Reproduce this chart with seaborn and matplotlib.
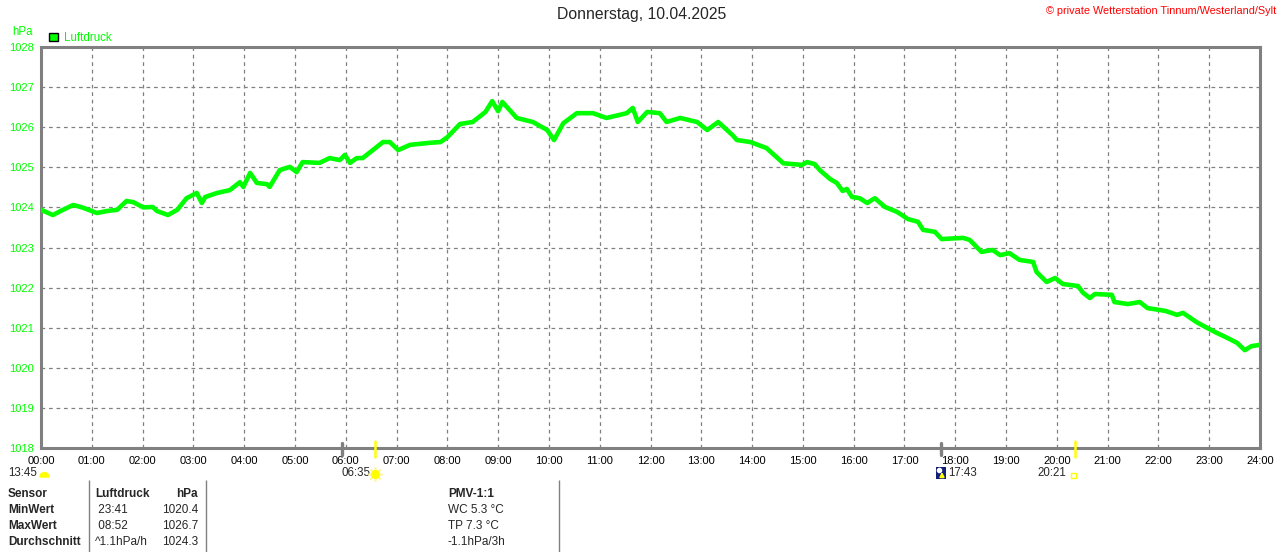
"""Luftdruck-Tagesverlauf, Wetterstation Tinnum, 10.04.2025"""
import matplotlib

matplotlib.use("Agg")
import matplotlib.pyplot as plt
import matplotlib.transforms as mtransforms
from matplotlib.patches import Patch, Rectangle, Wedge
import pandas as pd
import seaborn as sns

title = "Donnerstag, 10.04.2025"
copyright_text = "© private Wetterstation Tinnum/Westerland/Sylt"
sensor = "Luftdruck"
unit = "hPa"

# readings (time of day, hPa)
times = [
    "00:00", "00:14", "00:26", "00:38", "00:50", "01:06", "01:18", "01:30",
    "01:41", "01:49", "02:01", "02:12", "02:17", "02:30", "02:41", "02:52",
    "03:04", "03:10", "03:14", "03:28", "03:43", "03:55", "03:59", "04:07",
    "04:15", "04:27", "04:30", "04:42", "04:54", "05:02", "05:09", "05:29",
    "05:41", "05:53", "05:59", "06:05", "06:13", "06:20", "06:29", "06:44",
    "06:52", "07:02", "07:16", "07:39", "07:52", "08:00", "08:15", "08:30",
    "08:45", "08:53", "09:00", "09:05", "09:22", "09:41", "09:58", "10:06",
    "10:17", "10:33", "10:52", "11:08", "11:32", "11:39", "11:45", "11:56",
    "12:11", "12:19", "12:35", "12:55", "13:07", "13:20", "13:37", "13:42",
    "13:58", "14:17", "14:37", "14:59", "15:05", "15:14", "15:20", "15:32",
    "15:40", "15:47", "15:52", "15:58", "16:07", "16:16", "16:25", "16:37",
    "16:51", "16:57", "17:04", "17:16", "17:22", "17:36", "17:44", "18:09",
    "18:17", "18:31", "18:44", "18:53", "19:04", "19:16", "19:32", "19:36",
    "19:48", "19:58", "20:07", "20:25", "20:31", "20:39", "20:45", "21:05",
    "21:08", "21:24", "21:38", "21:47", "22:08", "22:22", "22:29", "22:45",
    "22:58", "23:09", "23:22", "23:33", "23:42", "23:50", "23:59",
]
pressure = [
    1023.94, 1023.81, 1023.94, 1024.06, 1023.99, 1023.86, 1023.91, 1023.94,
    1024.16, 1024.13, 1024.00, 1024.01, 1023.91, 1023.81, 1023.94, 1024.23,
    1024.36, 1024.11, 1024.26, 1024.36, 1024.43, 1024.63, 1024.51, 1024.86,
    1024.61, 1024.58, 1024.51, 1024.93, 1025.01, 1024.88, 1025.13, 1025.11,
    1025.23, 1025.18, 1025.31, 1025.11, 1025.23, 1025.23, 1025.38, 1025.63,
    1025.63, 1025.43, 1025.56, 1025.61, 1025.63, 1025.75, 1026.08, 1026.13,
    1026.38, 1026.65, 1026.40, 1026.63, 1026.23, 1026.13, 1025.93, 1025.68,
    1026.10, 1026.35, 1026.35, 1026.23, 1026.35, 1026.48, 1026.13, 1026.38,
    1026.35, 1026.13, 1026.23, 1026.13, 1025.93, 1026.13, 1025.80, 1025.68,
    1025.63, 1025.48, 1025.10, 1025.06, 1025.13, 1025.08, 1024.93, 1024.71,
    1024.61, 1024.41, 1024.46, 1024.26, 1024.23, 1024.11, 1024.23, 1024.01,
    1023.89, 1023.81, 1023.71, 1023.64, 1023.44, 1023.39, 1023.21, 1023.24,
    1023.19, 1022.89, 1022.94, 1022.81, 1022.86, 1022.69, 1022.64, 1022.39,
    1022.14, 1022.24, 1022.09, 1022.04, 1021.87, 1021.74, 1021.84, 1021.82,
    1021.64, 1021.59, 1021.64, 1021.49, 1021.42, 1021.32, 1021.37, 1021.14,
    1020.99, 1020.87, 1020.74, 1020.62, 1020.44, 1020.54, 1020.57,
]

hour_labels = [f"{h:02d}:00" for h in range(25)]
y_ticks = list(range(1018, 1029))

# sun / moon events on the time axis
sun_marks = ["06:35", "20:21"]
moon_marks = ["05:56", "17:43"]

# summary table under the chart
row_names = ["Sensor", "MinWert", "MaxWert", "Durchschnitt"]
row_times = ["Luftdruck", " 23:41", " 08:52", "^1.1hPa/h"]
row_values = ["hPa", "1020.4", "1026.7", "1024.3"]
pmv_lines = ["PMV-1:1", "WC 5.3 °C", "TP 7.3 °C", "-1.1hPa/3h"]

GREEN = "#00ff00"
GREY = "#808080"
YELLOW = "#ffff00"


def to_hours(t):
    h, m = t.split(":")
    return int(h) + int(m) / 60


df = pd.DataFrame({"hours": [to_hours(t) for t in times], "hPa": pressure})

sns.set_style("white")
plt.rcParams["font.family"] = ["Liberation Sans", "DejaVu Sans"]

W, H = 1280, 552
fig = plt.figure(figsize=(W / 100, H / 100), dpi=100)
ax = fig.add_axes([41 / W, 1 - 448 / H, (1260 - 41) / W, (448 - 47) / H])

sns.lineplot(df, x="hours", y="hPa", ax=ax, color=GREEN, linewidth=3.3,
             legend=False, zorder=3)

ax.set_xlim(0, 24)
ax.set_ylim(1018, 1028)
ax.set_xticks(range(25))
ax.set_xticklabels(hour_labels)
ax.set_yticks(y_ticks)
ax.set_xlabel("")
ax.set_ylabel("")
ax.grid(True, linestyle=(0, (3, 3)), color=GREY, linewidth=0.9)
for s in ax.spines.values():
    s.set_color(GREY)
    s.set_linewidth(2.2)
ax.tick_params(axis="y", colors=GREY, labelcolor=GREEN, length=4, width=1.2,
               labelsize=8, pad=1)
ax.tick_params(axis="x", length=0, labelsize=8, labelcolor="black", pad=6)

ax.legend(handles=[Patch(facecolor=GREEN, edgecolor="black", label=sensor)],
          loc="lower left", bbox_to_anchor=(49 / W, 1 - 44 / H),
          bbox_transform=fig.transFigure, frameon=False, fontsize=8.3,
          labelcolor=GREEN, handlelength=0.8, handleheight=0.8,
          handletextpad=0.5, borderaxespad=0, borderpad=0)

# event marks on the time axis
trans = mtransforms.blended_transform_factory(ax.transData, ax.transAxes)
for t in moon_marks:
    ax.plot([to_hours(t)] * 2, [0.0125, -0.0175], transform=trans,
            color=GREY, linewidth=2.4, clip_on=False, zorder=5)
for t in sun_marks:
    ax.plot([to_hours(t)] * 2, [0.0175, -0.022], transform=trans,
            color=YELLOW, linewidth=1.8, clip_on=False, zorder=5)

label_y = -0.0625


def event_text(t, s, dx, ha):
    tr = mtransforms.offset_copy(trans, fig=fig, x=dx, y=0, units="dots")
    ax.text(to_hours(t), label_y, s, transform=tr, ha=ha, va="center",
            fontsize=8.3)


event_text("00:00", "13:45", -4, "right")
event_text("06:35", "06:35", -5, "right")
event_text("17:43", "17:43", 7, "left")
event_text("20:21", "20:21", -8, "right")

# pixel overlay for icons, titles and the table
ov = fig.add_axes([0, 0, 1, 1])
ov.set_xlim(0, W)
ov.set_ylim(H, 0)
ov.axis("off")

# moon set (half disc), sunrise (sun), moon rise, sunset icons
ov.add_patch(Wedge((44.5, 477), 4.5, 180, 360, color=YELLOW))
ov.plot(375, 474, marker=(8, 2, 0), markersize=10, color="#fff59a",
        markeredgewidth=1.2)
ov.plot(375, 474, marker="o", markersize=5.5, color=YELLOW)
ov.add_patch(Rectangle((936, 467), 10, 12, facecolor="#10207a",
                       edgecolor="none"))
ov.plot(938.5, 469.5, "o", color="white", markersize=3)
ov.annotate("", xy=(942, 469), xytext=(942, 479),
            arrowprops=dict(arrowstyle="-|>", color=YELLOW, lw=1.4,
                            mutation_scale=6))
ov.add_patch(Rectangle((1070.5, 472.5), 5, 5, facecolor="none",
                       edgecolor=YELLOW, linewidth=1))

ov.text(642, 15, title, ha="center", va="center", fontsize=11.3)
ov.text(1276, 11, copyright_text, ha="right", va="center", color="red",
        fontsize=7.8)
ov.text(12, 32, unit, ha="left", va="center", color=GREEN, fontsize=8.3)

ov.vlines([89, 206, 559], 480, H, color=GREY, linewidth=1)
row_y = [494, 510, 526, 542]
for i, y in enumerate(row_y):
    head = "bold" if i == 0 else "normal"
    ov.text(8, y, row_names[i], ha="left", va="center", fontsize=8.5,
            fontweight="bold")
    ov.text(95, y, row_times[i], ha="left", va="center", fontsize=8.5,
            fontweight=head)
    ov.text(198, y, row_values[i], ha="right", va="center", fontsize=8.5,
            fontweight=head)
    ov.text(448, y, pmv_lines[i], ha="left", va="center", fontsize=8.5,
            fontweight=head)

fig.savefig("out.png", dpi=100)
